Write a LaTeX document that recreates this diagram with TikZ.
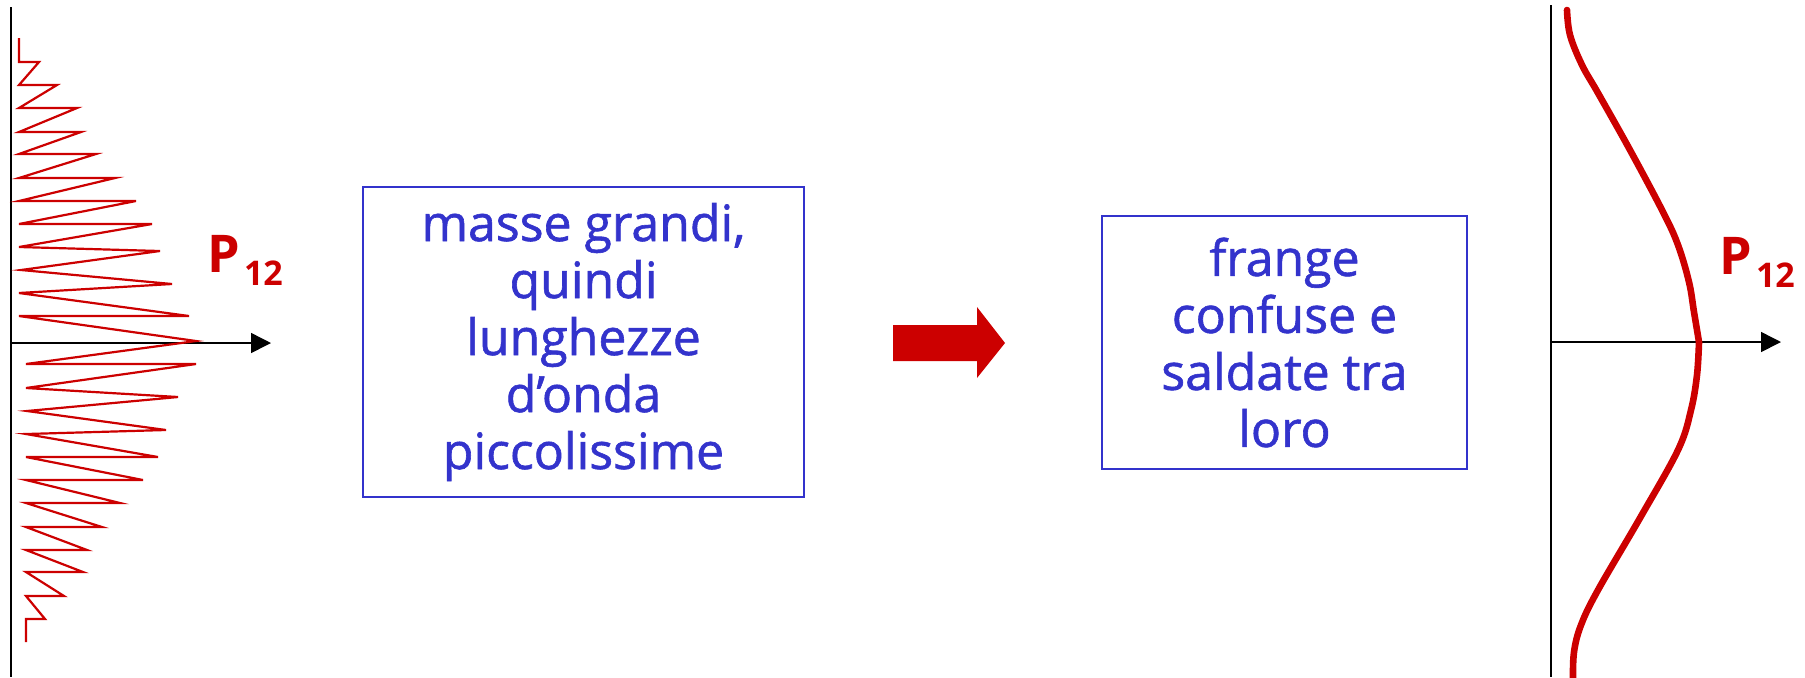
\documentclass[tikz,border=0pt]{standalone}
\usepackage{fontspec}
\setmainfont{Open Sans}
\newfontfamily\boxfont[FakeBold=1.2]{Open Sans}
\usetikzlibrary{arrows.meta}
\definecolor{pred}{HTML}{CC0000}
\definecolor{tblue}{HTML}{3333CC}
\begin{document}
\begin{tikzpicture}[x=0.5pt,y=-0.5pt,
  axisline/.style={line width=0.75pt, black},
  axisarrow/.style={line width=0.75pt, black, -{Triangle[length=10pt,width=10pt]}},
  txtbox/.style={draw=tblue, line width=0.8pt, text=tblue, align=center,
    font=\boxfont\fontsize{25}{28.5}\selectfont, inner sep=0pt},
  plabel/.style={text=pred, font=\bfseries\fontsize{26}{26}\selectfont, inner sep=0pt, anchor=base west},
  zig/.style={pred, line width=1.1pt, line join=miter},
  bell/.style={pred, line width=3.3pt, line cap=round, line join=round},
  bigarrow/.style={fill=pred, draw=none},
]
\useasboundingbox (0,0) rectangle (1805,677);

% left axes
\coordinate (ltop) at (11,7);
\coordinate (lbot) at (11,677);
\coordinate (lorig) at (11,343);
\coordinate (lend) at (271,343);
\draw[axisline] (ltop) -- (lbot);
\draw[axisarrow] (lorig) -- (lend);

% left zigzag
\draw[zig] (19,38) -- (19,62) -- (39,62) -- (19,85) -- (57,85) -- (19,108) -- (77,108)
  -- (19,132) -- (81,132) -- (19,154) -- (96,154) -- (19,178) -- (115,178)
  -- (19,201) -- (136,201) -- (19,224) -- (152,224) -- (19,247) -- (160,251)
  -- (21,270) -- (172,284) -- (19,293) -- (189,316) -- (19,316) -- (196,341)
  -- (26,364) -- (196,364) -- (26,388) -- (178,397) -- (27,411) -- (166,430)
  -- (26,434) -- (158,457) -- (26,457) -- (143,480) -- (26,480) -- (120,503)
  -- (26,503) -- (102,527) -- (26,527) -- (87,550) -- (26,550) -- (83,572)
  -- (26,572) -- (64,596) -- (26,596) -- (45,619) -- (26,619) -- (26,642);

\node[plabel] (pl) at (207,272) {P\hspace{2pt}\raisebox{-6.5pt}{\fontsize{17}{17}\selectfont 12}};

% boxes
\node[txtbox, minimum width=220.5pt, minimum height=155pt] (box1) at (583.5,342)
  {masse grandi,\\quindi\\lunghezze\\d’onda\\piccolissime};
\node[txtbox, minimum width=182.5pt, minimum height=126.5pt] (box2) at (1284.5,342.5)
  {frange\\confuse e\\saldate tra\\loro};

% big red arrow
\fill[bigarrow] (893,325) -- (977,325) -- (977,307) -- (1005,343) -- (977,378)
  -- (977,361) -- (893,361) -- cycle;

% right axes
\coordinate (rtop) at (1551,5);
\coordinate (rbot) at (1551,677);
\coordinate (rorig) at (1551,342);
\coordinate (rend) at (1781,342);
\draw[axisline] (rtop) -- (rbot);
\draw[axisarrow] (rorig) -- (rend);

% bell curve
\draw[bell] plot[smooth, tension=0.6] coordinates {(1567,10) (1570,35) (1582,65) (1598,93)
  (1630,150) (1663,212) (1678,245) (1689,282) (1694,312) (1699,342)}
  -- plot[smooth, tension=0.6] coordinates {(1699,342) (1697,375) (1691,410) (1678,450)
  (1640,518) (1598,590) (1581,625) (1574,652) (1573,680)};

\node[plabel] (pr) at (1719,274) {P\hspace{2pt}\raisebox{-6.5pt}{\fontsize{17}{17}\selectfont 12}};
\end{tikzpicture}
\end{document}
